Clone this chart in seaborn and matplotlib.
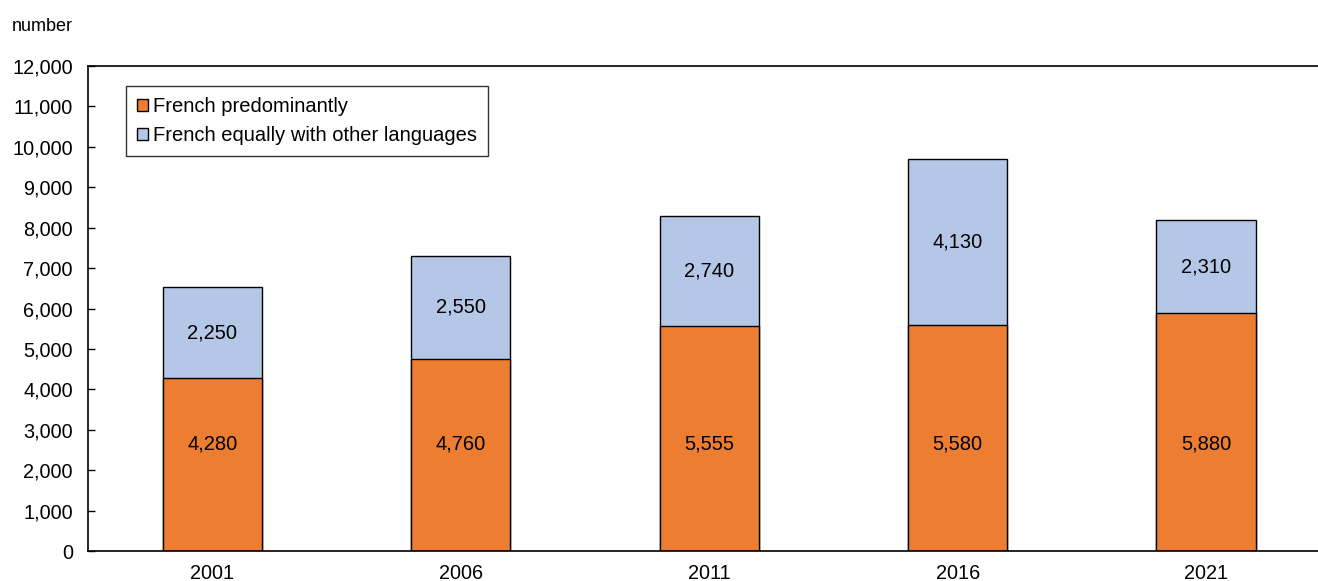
import matplotlib
matplotlib.use("Agg")
import matplotlib.pyplot as plt
import pandas as pd
import seaborn as sns
from matplotlib.patches import Patch
from matplotlib.ticker import FuncFormatter

# data
years = ["2001", "2006", "2011", "2016", "2021"]
french_predominantly = [4280, 4760, 5555, 5580, 5880]
french_equally = [2250, 2550, 2740, 4130, 2310]

df = pd.DataFrame({
    "year": years,
    "predominantly": french_predominantly,
    "equally": french_equally,
})
df["total"] = df["predominantly"] + df["equally"]

sns.set_style("white")
plt.rcParams["font.family"] = ["Liberation Sans", "DejaVu Sans"]
plt.rcParams["text.color"] = "black"
plt.rcParams["xtick.color"] = "black"
plt.rcParams["ytick.color"] = "black"

orange = "#ED7D31"
blue = "#B4C7E7"

fig = plt.figure(figsize=(13.18, 5.81), dpi=100)
ax = fig.add_axes([0.0668, 0.0516, 0.9332, 0.8348])

# stacked bars: total first, then the lower segment over it
sns.barplot(data=df, x="year", y="total", color=blue, width=0.4,
            edgecolor="black", linewidth=1, saturation=1, ax=ax)
sns.barplot(data=df, x="year", y="predominantly", color=orange, width=0.4,
            edgecolor="black", linewidth=1, saturation=1, ax=ax)

# orange labels sit at one common height in the original
for i, row in df.iterrows():
    ax.text(i, 2650, f"{row['predominantly']:,}",
            ha="center", va="center", fontsize=14.5)
    ax.text(i, row["predominantly"] + row["equally"] / 2, f"{row['equally']:,}",
            ha="center", va="center", fontsize=14.5)

ax.set_ylim(0, 12000)
ax.set_xlim(-0.5, 4.45)
ax.set_yticks(range(0, 12001, 1000))
ax.yaxis.set_major_formatter(FuncFormatter(lambda v, p: f"{int(v):,}"))
ax.set_xlabel("")
ax.set_ylabel("")
ax.tick_params(axis="y", which="major", left=True, direction="in", length=5,
               width=1, labelsize=14.3, pad=11)
ax.tick_params(axis="x", bottom=False, labelsize=14.3, pad=6)

for side in ["left", "bottom", "top"]:
    ax.spines[side].set_visible(True)
    ax.spines[side].set_color("black")
    ax.spines[side].set_linewidth(1.2)
ax.spines["right"].set_visible(False)

fig.text(0.009, 0.955, "number", fontsize=13, ha="left", va="center")

handles = [
    Patch(facecolor=orange, edgecolor="black", linewidth=1, label="French predominantly"),
    Patch(facecolor=blue, edgecolor="black", linewidth=1, label="French equally with other languages"),
]
leg = ax.legend(handles=handles, loc="upper left", bbox_to_anchor=(0.031, 0.959),
                fontsize=14.5, frameon=True, fancybox=False, handlelength=0.55,
                handleheight=0.55, handletextpad=0.25, borderpad=0.55,
                labelspacing=0.5, borderaxespad=0)
leg.get_frame().set_edgecolor("black")
leg.get_frame().set_linewidth(1)

fig.savefig("out.png", dpi=100)
